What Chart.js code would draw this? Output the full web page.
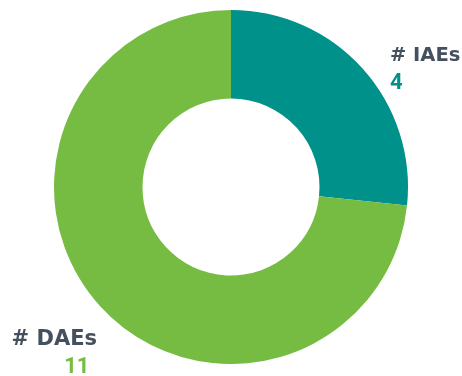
<!DOCTYPE html>
<html>
<head>
<meta charset="utf-8">
<script src="https://cdn.jsdelivr.net/npm/chart.js@4/dist/chart.umd.min.js"></script>
<style>
  html, body { margin: 0; padding: 0; background: #fff; }
  #wrap { width: 462px; height: 376px; }
</style>
</head>
<body>
<div id="wrap"><canvas id="canvas"></canvas></div>
<script>
const labels = ['# IAEs', '# DAEs']
const counts = [4, 11]
const colors = ['#00918A', '#76BC43']

// label text next to each slice: name in slate, count in the slice colour
const sliceLabels = {
  id: 'sliceLabels',
  afterDraw(chart) {
    const ctx = chart.ctx
    const arcs = chart.getDatasetMeta(0).data
    ctx.save()
    ctx.textBaseline = 'alphabetic'

    // IAEs: up and right of the teal slice
    let a = arcs[0]
    let x = a.x + a.outerRadius * 0.898
    let y = a.y - a.outerRadius * 0.712
    ctx.textAlign = 'left'
    ctx.font = 'bold 19.5px "DejaVu Sans"'
    ctx.fillStyle = '#45505E'
    ctx.fillText(labels[0], x, y)
    ctx.font = 'bold 22px Roboto'
    ctx.fillStyle = colors[0]
    ctx.fillText(String(counts[0]), x, y + 28.5)

    // DAEs: below left of the green slice
    a = arcs[1]
    x = a.x - a.outerRadius * 0.757
    y = a.y + a.outerRadius * 0.893
    ctx.textAlign = 'right'
    ctx.font = 'bold 21px "DejaVu Sans"'
    ctx.fillStyle = '#45505E'
    ctx.fillText(labels[1], x, y)
    ctx.font = 'bold 22px Roboto'
    ctx.fillStyle = colors[1]
    ctx.fillText(String(counts[1]), a.x - a.outerRadius * 0.8, y + 28)
    ctx.restore()
  }
}

const data = {
  labels: labels,
  datasets: [
    {
      data: counts,
      backgroundColor: colors,
      borderWidth: 0,
    },
  ],
}

const config = {
  type: 'doughnut',
  data: data,
  options: {
    responsive: true,
    maintainAspectRatio: false,
    animation: false,
    cutout: '50%',
    layout: { padding: { top: 10, bottom: 12 } },
    plugins: {
      legend: { display: false },
      tooltip: { enabled: false },
    },
  },
  plugins: [sliceLabels],
}

const canvas = document.getElementById('canvas')
const chart = new Chart(canvas, config)
</script>
</body>
</html>
